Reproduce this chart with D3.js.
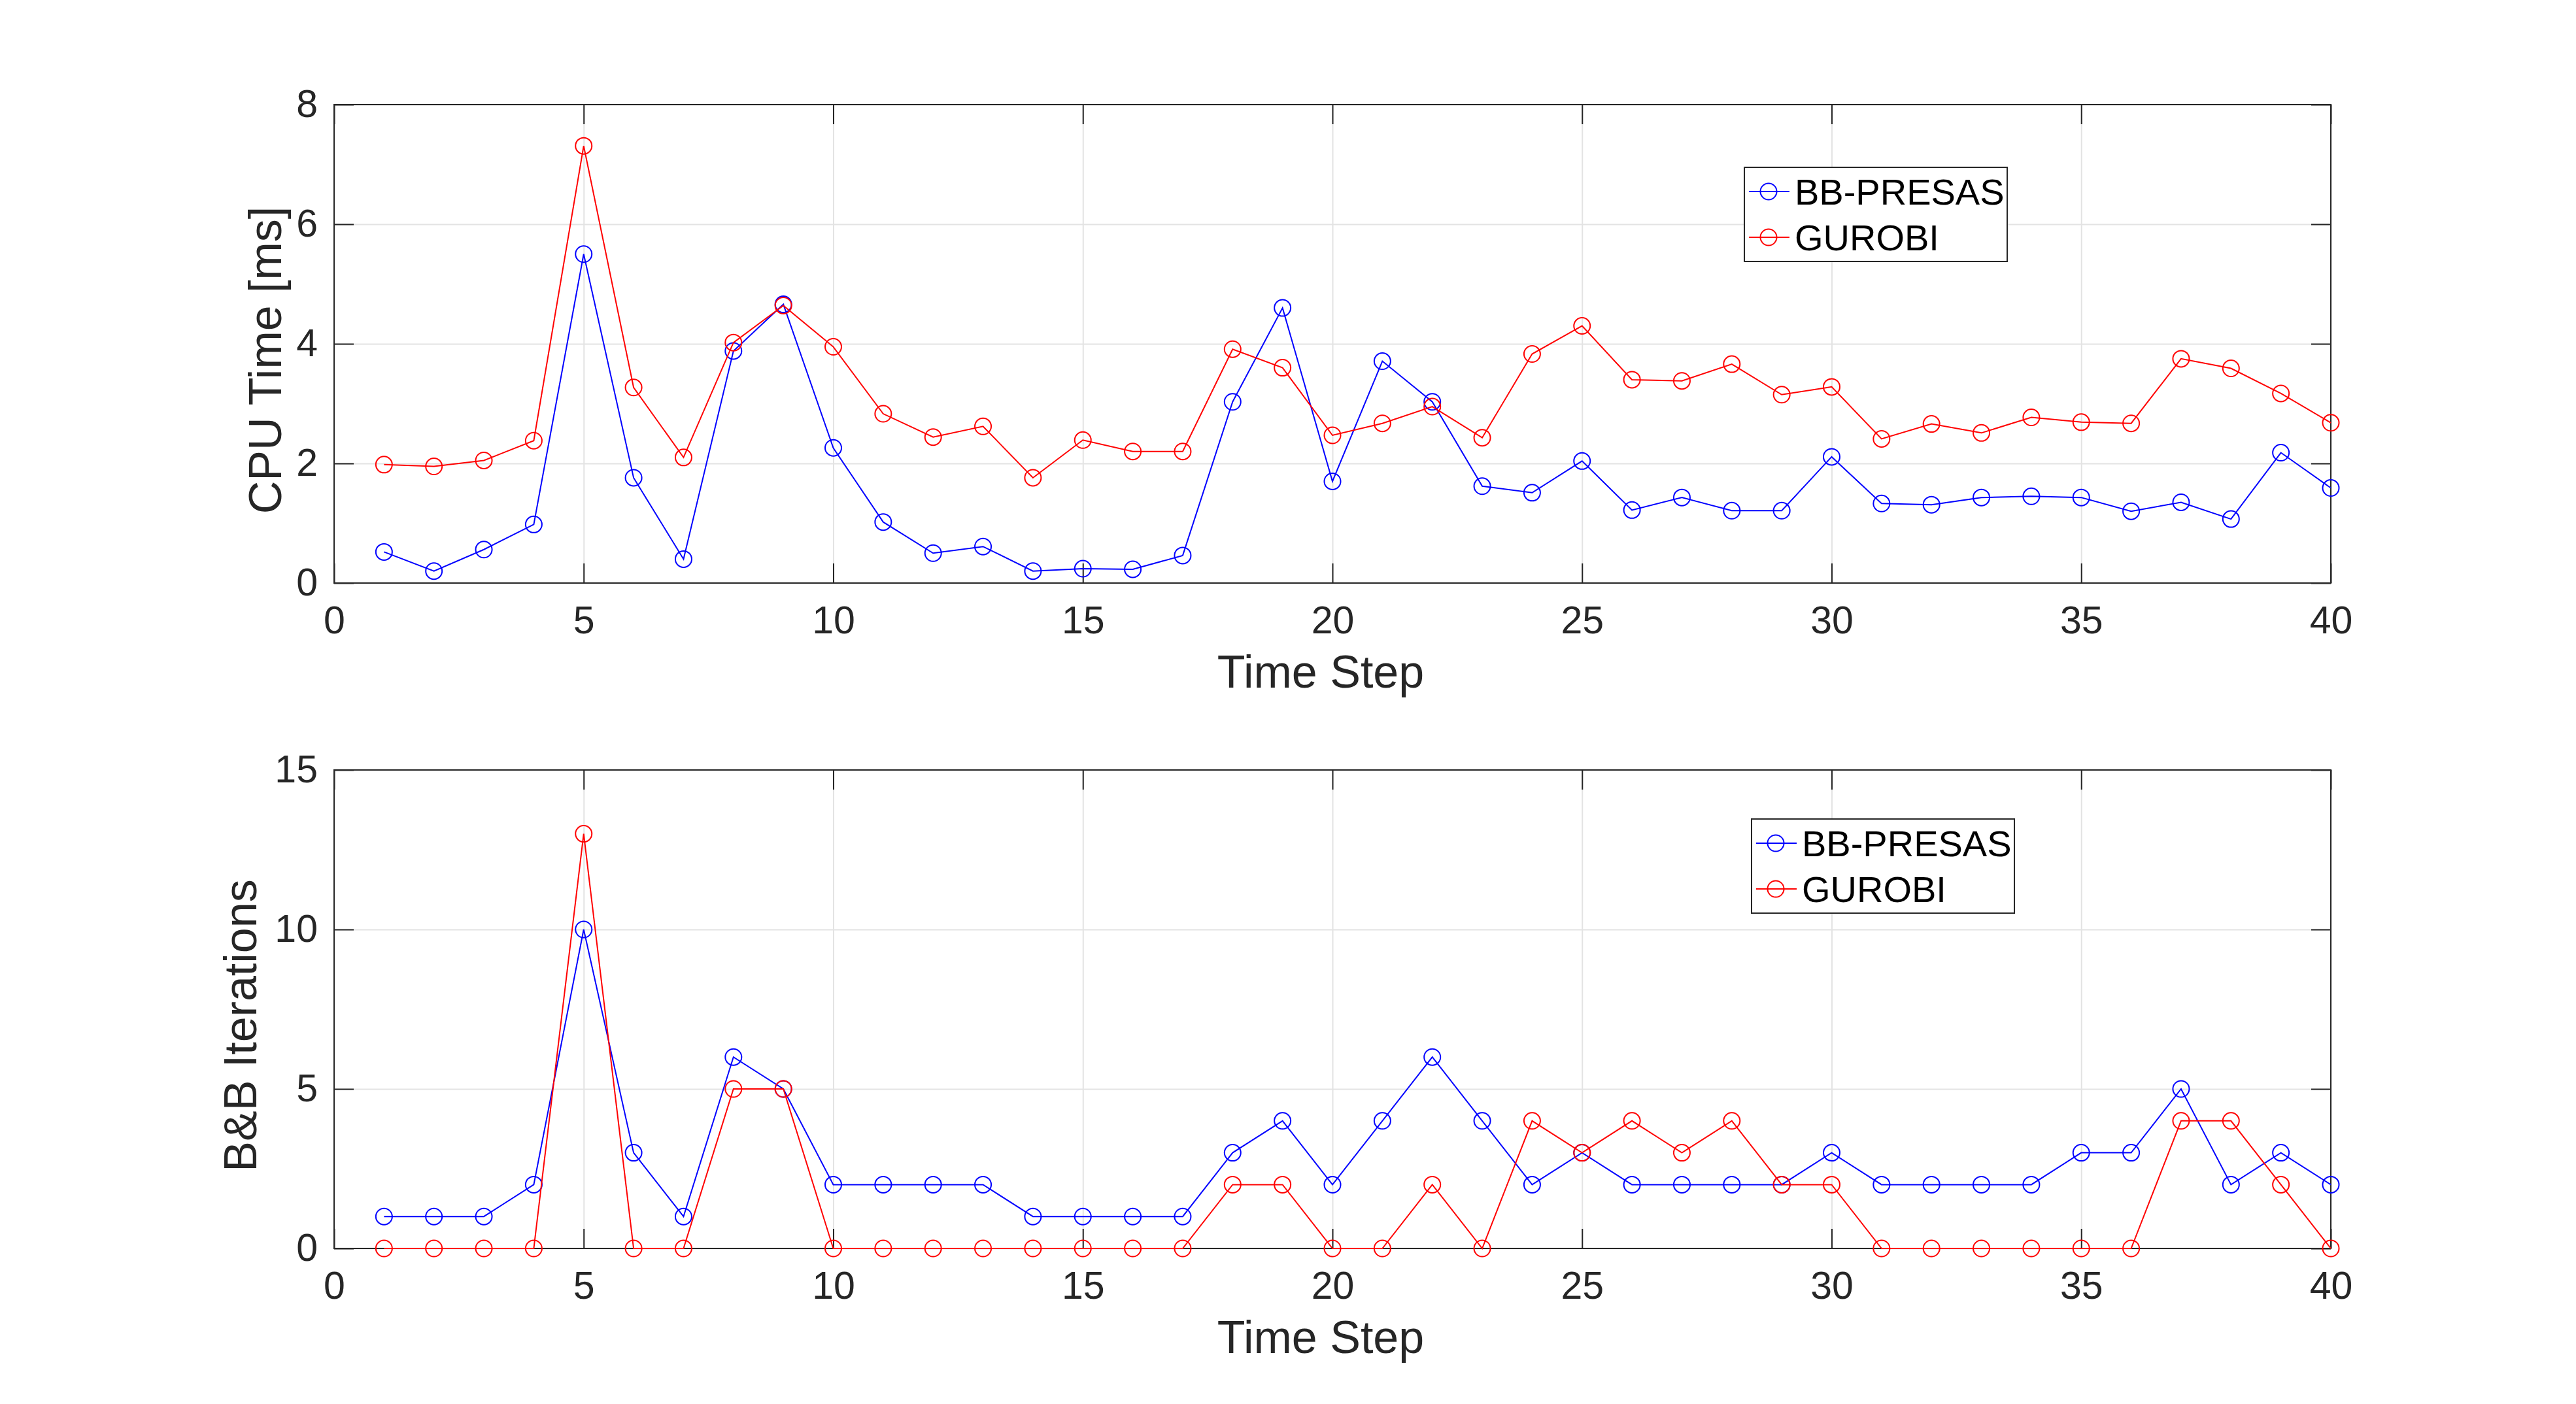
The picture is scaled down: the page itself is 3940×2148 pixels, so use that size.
<!DOCTYPE html>
<html>
<head>
<meta charset="utf-8">
<script src="https://cdn.jsdelivr.net/npm/d3@7"></script>
<style>
  body { margin: 0; background: #fff; }
  svg { display: block; font-family: 'Liberation Sans', Arial, Helvetica, sans-serif; }
  .axis path { display: none; }
  .axis line { stroke: #262626; stroke-width: 2; }
  .axis text { fill: #262626; font-size: 59px; }
  .grid line { stroke: #e3e3e3; stroke-width: 2; }
  .grid path { display: none; }
</style>
</head>
<body>
<div id="chart"></div>
<script>
// time steps
const steps = d3.range(1, 41)

// CPU time [ms]
const cpuBB = [0.52, 0.2, 0.56, 0.98, 5.5, 1.76, 0.4, 3.88, 4.66, 2.26,
  1.02, 0.5, 0.61, 0.2, 0.24, 0.23, 0.46, 3.03, 4.6, 1.7,
  3.71, 3.03, 1.62, 1.51, 2.04, 1.22, 1.43, 1.21, 1.21, 2.11,
  1.33, 1.31, 1.43, 1.45, 1.43, 1.2, 1.35, 1.07, 2.18, 1.59]
const cpuGurobi = [1.98, 1.95, 2.05, 2.38, 7.31, 3.27, 2.1, 4.02, 4.64, 3.95,
  2.83, 2.44, 2.62, 1.76, 2.39, 2.2, 2.2, 3.91, 3.6, 2.47,
  2.67, 2.95, 2.43, 3.83, 4.3, 3.4, 3.38, 3.66, 3.15, 3.28,
  2.41, 2.66, 2.51, 2.77, 2.69, 2.67, 3.75, 3.59, 3.17, 2.68]

// B&B iterations
const iterBB = [1, 1, 1, 2, 10, 3, 1, 6, 5, 2,
  2, 2, 2, 1, 1, 1, 1, 3, 4, 2,
  4, 6, 4, 2, 3, 2, 2, 2, 2, 3,
  2, 2, 2, 2, 3, 3, 5, 2, 3, 2]
const iterGurobi = [0, 0, 0, 0, 13, 0, 0, 5, 5, 0,
  0, 0, 0, 0, 0, 0, 0, 2, 2, 0,
  0, 2, 0, 4, 3, 4, 3, 4, 2, 2,
  0, 0, 0, 0, 0, 0, 4, 4, 2, 0]

const xTicks = [0, 5, 10, 15, 20, 25, 30, 35, 40]
const cpuTicks = [0, 2, 4, 6, 8]
const iterTicks = [0, 5, 10, 15]
const seriesNames = ['BB-PRESAS', 'GUROBI']
const seriesColors = ['#0000ff', '#ff0000']

const totalWidth = 3940
const totalHeight = 2148
const left = 511
const width = 3054
const height = 732
const tickLen = 30
const markerR = 12.5

const svg = d3
  .select('#chart')
  .append('svg')
  .attr('width', totalWidth)
  .attr('height', totalHeight)

const xPositionScale = d3.scaleLinear().domain([0, 40]).range([0, width])

function drawPanel(top, yDomain, yTicks, series, yLabel, legendX, legendY) {
  const g = svg.append('g').attr('transform', 'translate(' + left + ',' + top + ')')

  const yPositionScale = d3.scaleLinear().domain(yDomain).range([height, 0])

  // grid
  g.append('g')
    .attr('class', 'grid')
    .attr('transform', 'translate(0,' + height + ')')
    .call(d3.axisBottom(xPositionScale).tickValues(xTicks).tickSize(-height).tickFormat(''))
  g.append('g')
    .attr('class', 'grid')
    .call(d3.axisLeft(yPositionScale).tickValues(yTicks).tickSize(-width).tickFormat(''))

  // ticks on all four sides, pointing inward
  g.append('g')
    .attr('class', 'axis x-axis')
    .attr('transform', 'translate(0,' + height + ')')
    .call(d3.axisBottom(xPositionScale).tickValues(xTicks).tickSizeInner(-tickLen).tickSizeOuter(0).tickPadding(35))
  g.append('g')
    .attr('class', 'axis')
    .call(d3.axisTop(xPositionScale).tickValues(xTicks).tickSizeInner(-tickLen).tickSizeOuter(0).tickFormat(''))
  g.append('g')
    .attr('class', 'axis y-axis')
    .call(d3.axisLeft(yPositionScale).tickValues(yTicks).tickSizeInner(-tickLen).tickSizeOuter(0).tickPadding(25))
  g.append('g')
    .attr('class', 'axis')
    .attr('transform', 'translate(' + width + ',0)')
    .call(d3.axisRight(yPositionScale).tickValues(yTicks).tickSizeInner(-tickLen).tickSizeOuter(0).tickFormat(''))

  // box
  g.append('rect')
    .attr('width', width)
    .attr('height', height)
    .attr('fill', 'none')
    .attr('stroke', '#262626')
    .attr('stroke-width', 2)

  const line = d3
    .line()
    .x((d, i) => xPositionScale(steps[i]))
    .y(d => yPositionScale(d))

  series.forEach((values, k) => {
    g.append('path')
      .datum(values)
      .attr('d', line)
      .attr('fill', 'none')
      .attr('stroke', seriesColors[k])
      .attr('stroke-width', 2)

    g.selectAll('.marker-' + k)
      .data(values)
      .enter()
      .append('circle')
      .attr('class', 'marker-' + k)
      .attr('cx', (d, i) => xPositionScale(steps[i]))
      .attr('cy', d => yPositionScale(d))
      .attr('r', markerR)
      .attr('fill', 'none')
      .attr('stroke', seriesColors[k])
      .attr('stroke-width', 2)
  })

  // axis labels
  g.append('text')
    .attr('x', width / 2 - 18)
    .attr('y', height + 160)
    .attr('text-anchor', 'middle')
    .attr('fill', '#262626')
    .attr('font-size', 70)
    .text('Time Step')

  g.append('text')
    .attr('transform', 'translate(' + (yLabel.x - left) + ',' + (height / 2 + 25) + ') rotate(-90)')
    .attr('text-anchor', 'middle')
    .attr('fill', '#262626')
    .attr('font-size', 70)
    .text(yLabel.text)

  // legend
  const legend = g.append('g').attr('transform', 'translate(' + legendX + ',' + legendY + ')')
  legend.append('rect')
    .attr('width', 402)
    .attr('height', 144)
    .attr('fill', '#fff')
    .attr('stroke', '#262626')
    .attr('stroke-width', 2)

  seriesNames.forEach((name, k) => {
    const cy = 37 + k * 70
    legend.append('line')
      .attr('x1', 7)
      .attr('x2', 69)
      .attr('y1', cy)
      .attr('y2', cy)
      .attr('stroke', seriesColors[k])
      .attr('stroke-width', 2)
    legend.append('circle')
      .attr('cx', 37)
      .attr('cy', cy)
      .attr('r', markerR)
      .attr('fill', 'none')
      .attr('stroke', seriesColors[k])
      .attr('stroke-width', 2)
    legend.append('text')
      .attr('x', 77)
      .attr('y', cy + 20)
      .attr('fill', '#000')
      .attr('font-size', 56)
      .text(name)
  })
}

drawPanel(160, [0, 8], cpuTicks, [cpuBB, cpuGurobi], { text: 'CPU Time [ms]', x: 430 }, 2157, 96)
drawPanel(1178, [0, 15], iterTicks, [iterBB, iterGurobi], { text: 'B&B Iterations', x: 392 }, 2168, 75)
</script>
</body>
</html>
